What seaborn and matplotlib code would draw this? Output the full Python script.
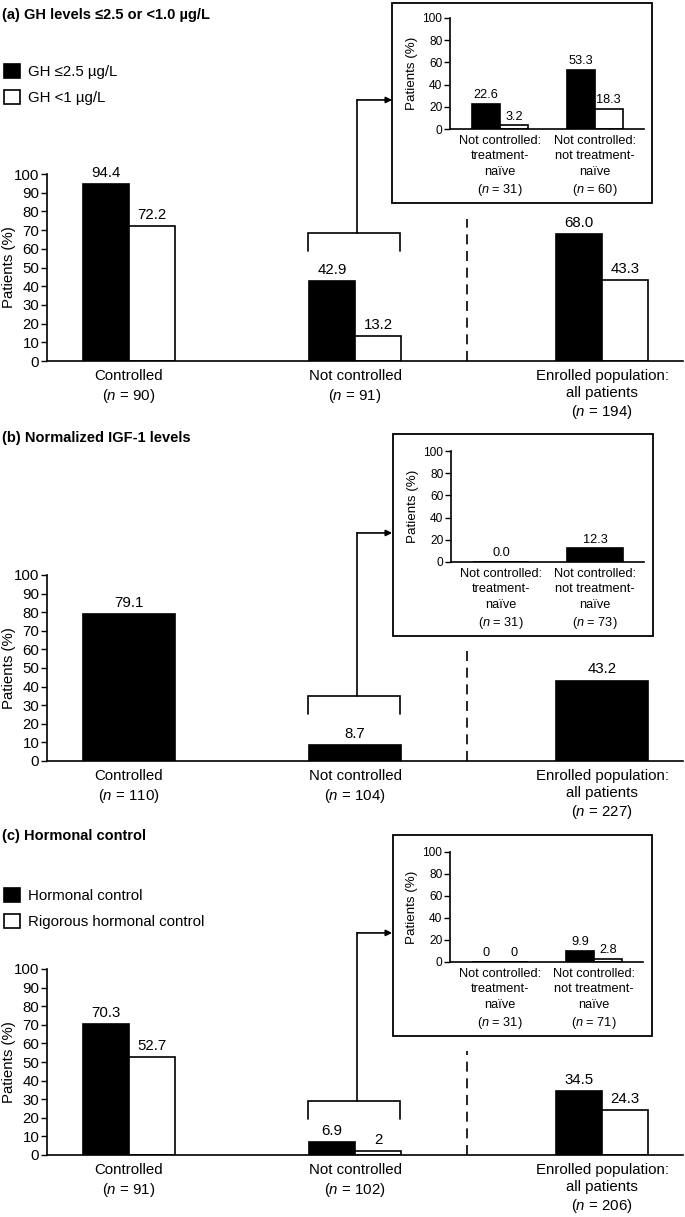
import matplotlib
matplotlib.use("Agg")
import matplotlib.pyplot as plt
import numpy as np
import pandas as pd
import seaborn as sns
from matplotlib.patches import Rectangle

# ---------------- data ----------------
a_categories = ["Controlled", "Not controlled", "Enrolled population:\nall patients"]
a_n = [90, 91, 194]
a_series = ["GH \u22642.5 \u00b5g/L", "GH <1 \u00b5g/L"]
a_s1 = [94.4, 42.9, 68.0]
a_s2 = [72.2, 13.2, 43.3]
a_inset_categories = ["Not controlled:\ntreatment-\nna\u00efve", "Not controlled:\nnot treatment-\nna\u00efve"]
a_inset_n = [31, 60]
a_inset_s1 = [22.6, 53.3]
a_inset_s2 = [3.2, 18.3]

b_categories = ["Controlled", "Not controlled", "Enrolled population:\nall patients"]
b_n = [110, 104, 227]
b_values = [79.1, 8.7, 43.2]
b_inset_categories = ["Not controlled:\ntreatment-\nna\u00efve", "Not controlled:\nnot treatment-\nna\u00efve"]
b_inset_n = [31, 73]
b_inset_values = [0.0, 12.3]

c_categories = ["Controlled", "Not controlled", "Enrolled population:\nall patients"]
c_n = [91, 102, 206]
c_series = ["Hormonal control", "Rigorous hormonal control"]
c_s1 = [70.3, 6.9, 34.5]
c_s2 = [52.7, 2, 24.3]
c_inset_categories = ["Not controlled:\ntreatment-\nna\u00efve", "Not controlled:\nnot treatment-\nna\u00efve"]
c_inset_n = [31, 71]
c_inset_s1 = [0, 9.9]
c_inset_s2 = [0, 2.8]

titles = ["(a) GH levels \u22642.5 or <1.0 \u00b5g/L", "(b) Normalized IGF-1 levels", "(c) Hormonal control"]

# ---------------- layout constants ----------------
W, H = 685, 1217
XPOS = [0.0, 1.0, 2.093]
XLIM = (-0.363, 2.451)
GROUP_W = 0.407
INSET_W = 0.59
INSET_XLIM = (-0.53, 1.52)
DASH_X = 1.496
BR_X = (0.792, 1.199)
CONN_X = 1.01
ARROW_END_X = 1.164

sns.set_theme(style="white")
plt.rcParams["font.family"] = ["Liberation Sans", "DejaVu Sans"]
plt.rcParams["mathtext.fontset"] = "custom"
plt.rcParams["mathtext.it"] = "Liberation Sans:italic"
plt.rcParams["mathtext.rm"] = "Liberation Sans"
plt.rcParams["mathtext.bf"] = "Liberation Sans:bold"

FS = 10.8
FS_IN = 9.2
FS_IN_TICK = 8.6
FS_IN_YLAB = 9.6
LW = 1.2

fig = plt.figure(figsize=(W / 100, H / 100), dpi=100)


def px_axes(x0, y_top, x1, y_bot):
    return fig.add_axes([x0 / W, 1 - y_bot / H, (x1 - x0) / W, (y_bot - y_top) / H])


def nlabel(cat, n):
    return f"{cat}\n($\\it{{n}}$ = {n})"


def style_axes(ax, fs_tick, step):
    ax.set_facecolor("none")
    sns.despine(ax=ax)
    for s in ("left", "bottom"):
        ax.spines[s].set_color("black")
        ax.spines[s].set_linewidth(LW)
    ax.set_ylim(0, 100)
    ax.set_yticks(np.arange(0, 101, step))
    ax.tick_params(axis="y", left=True, length=4, width=1, color="black",
                   labelsize=fs_tick, pad=1.5, labelcolor="black")
    ax.tick_params(axis="x", bottom=False, length=0, labelcolor="black")


def main_panel(ax, cats, ns, series, s1, s2, fmt, dash_top, br_top, br_bot, arrow_y):
    if s2 is not None:
        df = pd.DataFrame({"pos": XPOS * 2,
                           "series": [series[0]] * 3 + [series[1]] * 3,
                           "value": list(s1) + list(s2)})
        sns.barplot(data=df, x="pos", y="value", hue="series", native_scale=True,
                    palette=["black", "white"], edgecolor="black", linewidth=LW,
                    width=GROUP_W, saturation=1, errorbar=None, legend=False, ax=ax)
    else:
        df = pd.DataFrame({"pos": XPOS, "value": list(s1)})
        sns.barplot(data=df, x="pos", y="value", native_scale=True, color="black",
                    edgecolor="black", linewidth=LW, width=GROUP_W, saturation=1,
                    errorbar=None, ax=ax)
    style_axes(ax, FS, 10)
    ax.set_xlim(*XLIM)
    ax.set_xticks(XPOS, [nlabel(c, n) for c, n in zip(cats, ns)],
                  fontsize=FS, linespacing=1.25, va="top")
    ax.tick_params(axis="x", pad=6)
    ax.set_xlabel("")
    ax.set_ylabel("Patients (%)", fontsize=FS, color="black")
    ax.yaxis.set_label_coords(-0.049, 0.5)
    for cont in ax.containers:
        ax.bar_label(cont, fmt=fmt, padding=3, fontsize=FS, color="black")
    # dashed separator
    ax.plot([DASH_X, DASH_X], [0, dash_top], color="black", lw=LW,
            ls=(0, (6, 4)), clip_on=False)
    # bracket + connector
    ax.plot([BR_X[0], BR_X[0], BR_X[1], BR_X[1]], [br_bot, br_top, br_top, br_bot],
            color="black", lw=LW, clip_on=False, solid_joinstyle="miter")
    ax.plot([CONN_X, CONN_X], [br_top, arrow_y], color="black", lw=LW, clip_on=False)
    ax.annotate("", xy=(ARROW_END_X, arrow_y), xytext=(CONN_X - 0.002, arrow_y),
                xycoords="data", textcoords="data", annotation_clip=False,
                arrowprops=dict(arrowstyle="-|>", color="black", lw=LW,
                                mutation_scale=9, shrinkA=0, shrinkB=0))


def inset_panel(ax, cats, ns, s1, s2, fmt):
    labels = [nlabel(c, n) for c, n in zip(cats, ns)]
    if s2 is not None:
        df = pd.DataFrame({"cat": labels * 2, "series": ["s1"] * 2 + ["s2"] * 2,
                           "value": list(s1) + list(s2)})
        sns.barplot(data=df, x="cat", y="value", hue="series",
                    palette=["black", "white"], edgecolor="black", linewidth=LW,
                    width=INSET_W, saturation=1, errorbar=None, legend=False, ax=ax)
    else:
        df = pd.DataFrame({"cat": labels, "value": list(s1)})
        sns.barplot(data=df, x="cat", y="value", color="black", edgecolor="black",
                    linewidth=LW, width=INSET_W, saturation=1, errorbar=None, ax=ax)
    style_axes(ax, FS_IN_TICK, 20)
    ax.set_xlim(*INSET_XLIM)
    for t in ax.get_xticklabels():
        t.set_fontsize(FS_IN)
        t.set_linespacing(1.36)
    ax.tick_params(axis="x", pad=4.5)
    ax.set_xlabel("")
    ax.set_ylabel("Patients (%)", fontsize=FS_IN_YLAB, color="black", labelpad=3)
    for cont in ax.containers:
        ax.bar_label(cont, fmt=fmt, padding=2, fontsize=FS_IN, color="black")


def box(x0, y_top, x1, y_bot):
    fig.add_artist(Rectangle((x0 / W, 1 - y_bot / H), (x1 - x0) / W, (y_bot - y_top) / H,
                             transform=fig.transFigure, fill=False, ec="black", lw=1.3))


def title(y, text):
    fig.text(2 / W, 1 - y / H, text, fontsize=10.5, fontweight="bold",
             va="center", ha="left", color="black")


def legend(ax, labels, y_top):
    fig.legend(ax.containers[:2], labels, loc="upper left",
               bbox_to_anchor=(4 / W, 1 - y_top / H), bbox_transform=fig.transFigure,
               frameon=False, borderpad=0, borderaxespad=0, handlelength=1.05,
               handleheight=1.05, handletextpad=0.55, labelspacing=0.72,
               fontsize=FS, labelcolor="black")


# ---------------- panel (a) ----------------
ax_a = px_axes(47, 174, 683, 361)
main_panel(ax_a, a_categories, a_n, a_series, a_s1, a_s2, "%.1f", 76, 68.4, 58.8, 139.6)
box(392, 3, 652, 203)
ax_ai = px_axes(450, 18, 644, 129)
inset_panel(ax_ai, a_inset_categories, a_inset_n, a_inset_s1, a_inset_s2, "%.1f")
title(15, titles[0])
legend(ax_a, a_series, 64)

# ---------------- panel (b) ----------------
ax_b = px_axes(47, 575, 683, 761)
main_panel(ax_b, b_categories, b_n, b_values, b_values, None, "%.1f", 60, 35, 25.3, 122.6)
box(393, 434, 653, 636)
ax_bi = px_axes(451, 451, 644, 562)
inset_panel(ax_bi, b_inset_categories, b_inset_n, b_inset_values, None, "%.1f")
title(438, titles[1])

# ---------------- panel (c) ----------------
ax_c = px_axes(47, 969, 683, 1155)
main_panel(ax_c, c_categories, c_n, c_series, c_s1, c_s2, "%g", 56, 29, 19.4, 119.4)
box(393, 835, 652, 1036)
ax_ci = px_axes(450, 852, 643, 962)
inset_panel(ax_ci, c_inset_categories, c_inset_n, c_inset_s1, c_inset_s2, "%g")
title(836, titles[2])
legend(ax_c, c_series, 888)

fig.savefig("out.png", dpi=100, facecolor="white")
